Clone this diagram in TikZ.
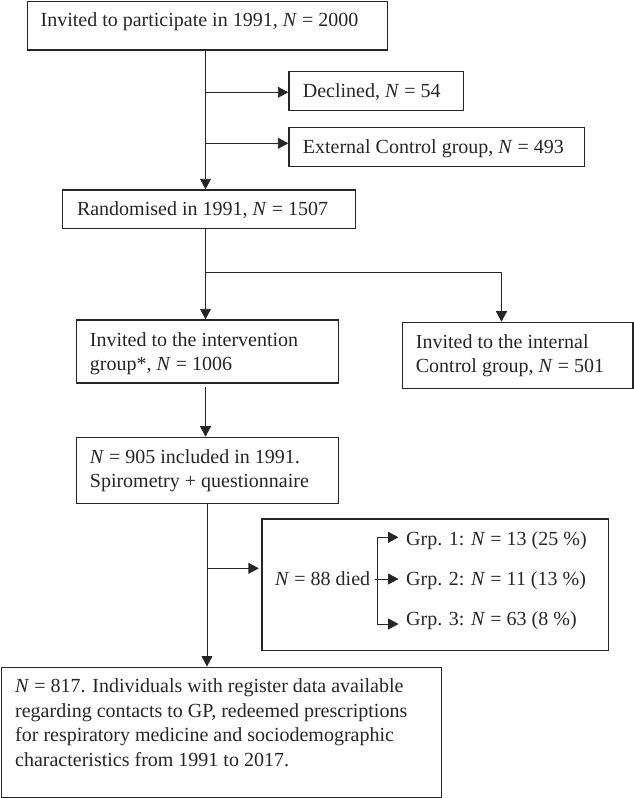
\documentclass[tikz,border=0pt]{standalone}
\usepackage{fontspec}
\setmainfont{Liberation Serif}
\usetikzlibrary{arrows.meta}
\definecolor{ink}{HTML}{262626}
\tikzset{
  boxshape/.style={draw=ink, line width=1.4pt, fill=none, inner sep=0pt, anchor=north west},
  txt/.style={anchor=base west, inner sep=0pt, text=ink, font=\fontsize{20}{24.5}\selectfont},
  conn/.style={draw=ink, line width=0.9pt},
  arr/.style={conn, -{Triangle[length=10.5pt,width=11pt]}},
}
\begin{document}
\begin{tikzpicture}[x=1pt,y=-1pt]
\useasboundingbox (0,0) rectangle (633,798);
% boxes as named rectangle nodes
\node[boxshape, minimum width=360.3pt, minimum height=48.3pt] (b1) at (26.7,1) {};
\node[boxshape, minimum width=174.7pt, minimum height=39.3pt] (dec) at (288.3,70.7) {};
\node[boxshape, minimum width=295.4pt, minimum height=39.3pt] (ext) at (288.3,126.7) {};
\node[boxshape, minimum width=292.7pt, minimum height=38.4pt] (rand) at (61.8,189.3) {};
\node[boxshape, minimum width=262.1pt, minimum height=62.9pt] (intv) at (75.6,319.3) {};
\node[boxshape, minimum width=230.8pt, minimum height=65.8pt] (intl) at (401.5,321.7) {};
\node[boxshape, minimum width=262.4pt, minimum height=65.8pt] (incl) at (75.6,436.7) {};
\node[boxshape, minimum width=346.5pt, minimum height=131.3pt] (died) at (261.3,518.3) {};
\node[boxshape, minimum width=439.6pt, minimum height=130.2pt] (fin) at (1,666.5) {};
% texts
\node[txt] (t1) at (40.4,26.7) {Invited to participate in 1991, \textit{N} = 2000};
\node[txt] (tdec) at (302.7,97.3) {Declined, \textit{N} = 54};
\node[txt] (text) at (302.7,153.3) {External Control group, \textit{N} = 493};
\node[txt] (trand) at (76.8,215.7) {Randomised in 1991, \textit{N} = 1507};
\node[txt] (tintv1) at (89.7,346) {Invited to the intervention};
\node[txt] (tintv2) at (89.7,370.5) {group*, \textit{N} = 1006};
\node[txt] (tintl1) at (415.7,348.3) {Invited to the internal};
\node[txt] (tintl2) at (415.7,372.8) {Control group, \textit{N} = 501};
\node[txt] (tincl1) at (89.7,463.3) {\textit{N} = 905 included in 1991.};
\node[txt] (tincl2) at (89.7,487.8) {Spirometry + questionnaire};
\node[txt] (tdied) at (275,585) {\textit{N} = 88 died};
\node[txt] (g1) at (406,545) {Grp. 1: \textit{N} = 13 (25 \%)};
\node[txt] (g2) at (406,585) {Grp. 2: \textit{N} = 11 (13 \%)};
\node[txt] (g3) at (406,625) {Grp. 3: \textit{N} = 63 (8 \%)};
\node[txt] (tf1) at (15,692.7) {\textit{N} = 817. Individuals with register data available};
\node[txt] (tf2) at (15,717.2) {regarding contacts to GP, redeemed prescriptions};
\node[txt] (tf3) at (15,741.7) {for respiratory medicine and sociodemographic};
\node[txt] (tf4) at (15,766.2) {characteristics from 1991 to 2017.};
% junction coordinates
\coordinate (j1) at (205.5,92.3);
\coordinate (j2) at (205.5,143.3);
\coordinate (j3) at (205.5,272.5);
\coordinate (j4) at (501.5,272.5);
\coordinate (j5) at (207,568.3);
\coordinate (k1) at (377.5,537.3);
\coordinate (k2) at (377.5,624);
\coordinate (k0) at (375,579);
% connectors
\draw[arr] (b1.south -| j1) -- (rand.north -| j1);
\draw[arr] (j1) -- (dec.west |- j1);
\draw[arr] (j2) -- (ext.west |- j2);
\draw[arr] (rand.south -| j3) -- (intv.north -| j3);
\draw[arr] (j3) -- (j4) -- (intl.north -| j4);
\draw[arr, shorten <=3.5pt] (intv.south -| j3) -- (incl.north -| j3);
\draw[arr] (incl.south -| j5) -- (fin.north -| j5);
\draw[arr, shorten >=2.5pt] (j5) -- (died.west |- j5);
\draw[arr] (k0) -- ([xshift=-7.5pt]g2.west |- k0);
\draw[arr] (k2) |- ([xshift=-7.5pt]g1.west |- k1);
\draw[arr] (k1) |- ([xshift=-7.5pt]g3.west |- k2);
\end{tikzpicture}
\end{document}
